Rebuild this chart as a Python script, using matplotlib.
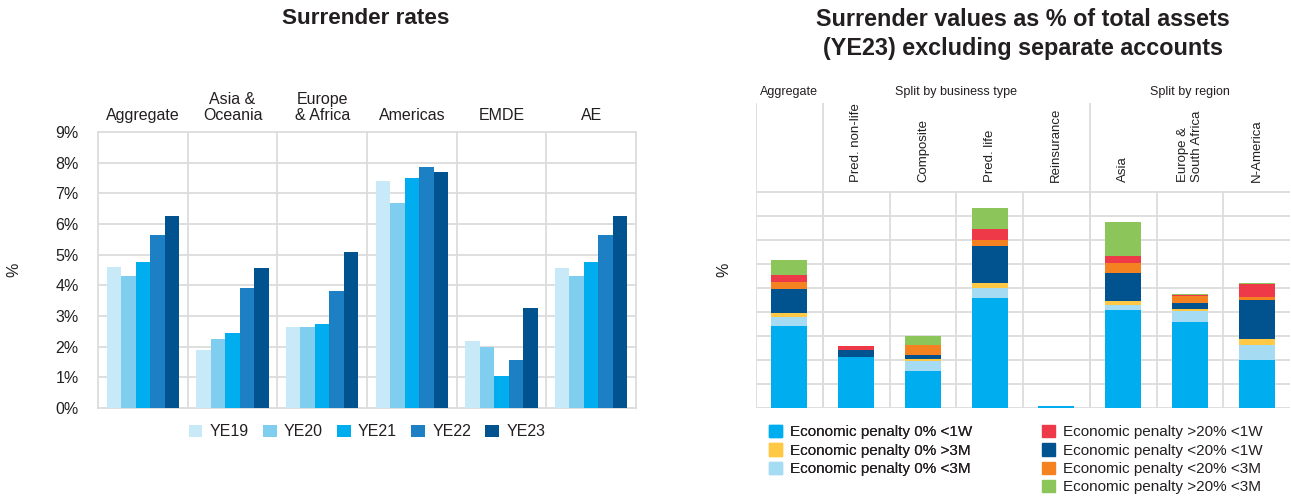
# Surrender rates / surrender values, two panels side by side

import matplotlib.pyplot as plt
from matplotlib.patches import Patch

plt.rcParams['font.family'] = ['Liberation Sans', 'DejaVu Sans']
plt.rcParams['text.color'] = '#231f20'

# left panel data (%)
regions = ["Aggregate", "Asia &\nOceania", "Europe\n& Africa", "Americas", "EMDE", "AE"]
years = ["YE19", "YE20", "YE21", "YE22", "YE23"]
ye19 = [4.6, 1.9, 2.65, 7.4, 2.2, 4.55]
ye20 = [4.3, 2.25, 2.65, 6.7, 2.0, 4.3]
ye21 = [4.75, 2.45, 2.75, 7.5, 1.05, 4.75]
ye22 = [5.65, 3.9, 3.8, 7.85, 1.55, 5.65]
ye23 = [6.25, 4.55, 5.1, 7.7, 3.25, 6.25]
year_colors = ["#c8e9f8", "#7fcdef", "#00aeef", "#1d7fc4", "#00538f"]

# right panel data (gridline units, no scale shown)
groups = ["Aggregate", "Split by business type", "Split by region"]
types = ["", "Pred. non-life", "Composite", "Pred. life", "Reinsurance",
         "Asia", "Europe &\nSouth Africa", "N-America"]
pen0_1w = [3.40, 2.11, 1.56, 4.57, 0.10, 4.07, 3.57, 1.98]
pen0_3m = [0.39, 0.0, 0.41, 0.41, 0.0, 0.21, 0.46, 0.66]
pen0_gt3m = [0.16, 0.0, 0.08, 0.22, 0.0, 0.17, 0.08, 0.22]
lt20_1w = [1.02, 0.29, 0.14, 1.55, 0.0, 1.17, 0.26, 1.63]
lt20_3m = [0.28, 0.0, 0.45, 0.25, 0.0, 0.42, 0.30, 0.13]
gt20_1w = [0.30, 0.17, 0.0, 0.46, 0.0, 0.29, 0.04, 0.54]
gt20_3m = [0.62, 0.0, 0.34, 0.88, 0.0, 1.42, 0.03, 0.04]

seg_labels = ["Economic penalty 0% <1W", "Economic penalty 0% <3M",
              "Economic penalty 0% >3M", "Economic penalty <20% <1W",
              "Economic penalty <20% <3M", "Economic penalty >20% <1W",
              "Economic penalty >20% <3M"]
seg_colors = ["#00aeef", "#a6dcf3", "#ffc845", "#00538f",
              "#f58220", "#ee3a48", "#8cc65a"]

grid = "#dcdcdc"
W, H = 1291, 499
fig = plt.figure(figsize=(W / 100, H / 100), dpi=100)

# ---------------- left panel
ax = fig.add_axes([98 / W, 91 / H, 538 / W, 276 / H])
bw = 0.162
for j, vals in enumerate([ye19, ye20, ye21, ye22, ye23]):
    xs = [i + 0.5 + (j - 2) * bw for i in range(len(regions))]
    ax.bar(xs, vals, width=bw, color=year_colors[j], label=years[j], zorder=3)
ax.set_xlim(0, 6)
ax.set_ylim(0, 9)
ax.set_yticks(range(10))
ax.set_yticklabels(["{}%".format(v) for v in range(10)])
ax.set_xticks([])
ax.tick_params(axis='y', length=0, pad=14, labelsize=11.5, labelcolor='#231f20')
for v in range(1, 9):
    ax.axhline(v, color=grid, lw=1.3, zorder=1)
for v in range(1, 6):
    ax.axvline(v, color=grid, lw=1.3, zorder=1)
for s in ax.spines.values():
    s.set_color(grid)
    s.set_linewidth(1.3)
for i, r in enumerate(regions):
    ax.text(i + 0.5, 9.3, r, ha='center', va='bottom', fontsize=11.5,
            multialignment='center', linespacing=1.1)
fig.text(14 / W, 1 - 270 / H, "%", rotation=90, ha='center', va='center', fontsize=11.5)
fig.text(366 / W, 1 - 19 / H, "Surrender rates", ha='center', va='center',
         fontsize=16.2, fontweight='bold')
fig.legend(loc='center', bbox_to_anchor=(367 / W, 1 - 432 / H), ncol=5,
           frameon=False, fontsize=11.5, handlelength=0.85, handleheight=0.85,
           handletextpad=0.45, columnspacing=0.9)

# ---------------- right panel
bx = fig.add_axes([756 / W, 91 / H, 534 / W, 305 / H])
top = 12.7
bx.set_xlim(0, 8)
bx.set_ylim(0, top)
bx.axis('off')
xs = [i + 0.5 for i in range(len(types))]
bottom = [0.0] * len(types)
for vals, col, lab in zip([pen0_1w, pen0_3m, pen0_gt3m, lt20_1w, lt20_3m, gt20_1w, gt20_3m],
                          seg_colors, seg_labels):
    bx.bar(xs, vals, bottom=bottom, width=0.54, color=col, label=lab, zorder=3)
    bottom = [b + v for b, v in zip(bottom, vals)]
for v in range(0, 10):
    bx.plot([0, 8], [v, v], color=grid, lw=1.3, zorder=1)
for v in range(1, 8):
    bx.plot([v, v], [0, 9], color=grid, lw=1.3, zorder=1)
for v in [0, 1, 5]:
    bx.plot([v, v], [0, top], color=grid, lw=1.3, zorder=1)
for x, t in zip(xs, types):
    bx.text(x, 9.42, t, rotation=90, ha='center', va='bottom', fontsize=9.5,
            multialignment='left', linespacing=1.2)
for x, g in zip([0.5, 3.0, 6.5], groups):
    bx.text(x, 13.17, g, ha='center', va='center', fontsize=9, clip_on=False)
fig.text(724 / W, 1 - 270 / H, "%", rotation=90, ha='center', va='center', fontsize=11.5)
fig.text(1023 / W, 1 - 34 / H,
         "Surrender values as % of total assets\n(YE23) excluding separate accounts",
         ha='center', va='center', fontsize=16.8, fontweight='bold', linespacing=1.3)

hand = {lab: Patch(color=c) for lab, c in zip(seg_labels, seg_colors)}
col1 = ["Economic penalty 0% <1W", "Economic penalty 0% >3M", "Economic penalty 0% <3M"]
col2 = ["Economic penalty >20% <1W", "Economic penalty <20% <1W",
        "Economic penalty <20% <3M", "Economic penalty >20% <3M"]
leg_kw = dict(loc='upper left', frameon=False, fontsize=11, handlelength=0.85,
              handleheight=0.85, handletextpad=0.5, labelspacing=0.26, borderpad=0,
              borderaxespad=0)
l1 = fig.legend([hand[k] for k in col1], col1, bbox_to_anchor=(769 / W, 1 - 425 / H), **leg_kw)
fig.add_artist(l1)
fig.legend([hand[k] for k in col2], col2, bbox_to_anchor=(1042 / W, 1 - 425 / H), **leg_kw)

fig.savefig("out.png", dpi=100)
